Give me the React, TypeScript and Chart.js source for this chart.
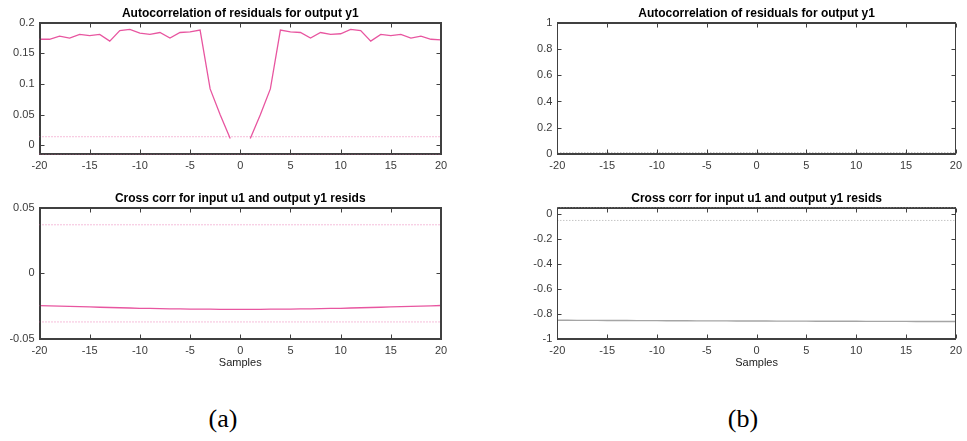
import React, { useEffect, useRef } from "react";
import { Chart, registerables } from "chart.js";

Chart.register(...registerables);

// ---------- data ----------
const lags: number[] = [
  -20, -19, -18, -17, -16, -15, -14, -13, -12, -11, -10, -9, -8, -7, -6, -5, -4, -3, -2, -1, 0,
  1, 2, 3, 4, 5, 6, 7, 8, 9, 10, 11, 12, 13, 14, 15, 16, 17, 18, 19, 20,
];

// (a) autocorrelation of residuals (lag 0 not drawn)
const autoA: (number | null)[] = [
  0.173, 0.173, 0.178, 0.175, 0.181, 0.179, 0.181, 0.17, 0.187, 0.189, 0.183, 0.181, 0.184, 0.175,
  0.184, 0.185, 0.188, 0.092, 0.05, 0.011, null, 0.011, 0.05, 0.092, 0.188, 0.185, 0.184, 0.175,
  0.184, 0.181, 0.182, 0.189, 0.187, 0.17, 0.181, 0.179, 0.181, 0.175, 0.178, 0.173, 0.172,
];
const confAutoA = 0.0141;

// (a) cross correlation u1 / y1 residuals
const crossA: number[] = [
  -0.0246, -0.0248, -0.025, -0.0252, -0.0254, -0.0256, -0.0258, -0.026, -0.0262, -0.0264, -0.0266,
  -0.0267, -0.0269, -0.027, -0.0271, -0.0272, -0.0273, -0.0273, -0.0274, -0.0274, -0.0274, -0.0274,
  -0.0274, -0.0273, -0.0273, -0.0272, -0.0271, -0.027, -0.0269, -0.0267, -0.0266, -0.0264, -0.0262,
  -0.026, -0.0258, -0.0256, -0.0253, -0.0251, -0.0249, -0.0247, -0.0245,
];
const confCrossA = 0.037;

// (b) autocorrelation: only the confidence bound is visible
const confAutoB = 0.011;

// (b) cross correlation
const crossB: number[] = [
  -0.85, -0.85, -0.851, -0.851, -0.851, -0.852, -0.852, -0.852, -0.853, -0.853, -0.853, -0.854,
  -0.854, -0.854, -0.855, -0.855, -0.855, -0.855, -0.856, -0.856, -0.856, -0.856, -0.857, -0.857,
  -0.857, -0.857, -0.858, -0.858, -0.858, -0.858, -0.858, -0.859, -0.859, -0.859, -0.859, -0.859,
  -0.86, -0.86, -0.86, -0.86, -0.86,
];
const confCrossB = 0.051;

const xTickValues: number[] = [-20, -15, -10, -5, 0, 5, 10, 15, 20];
const xTickLabels: string[] = ["-20", "-15", "-10", "-5", "0", "5", "10", "15", "20"];

const yTicksA: number[] = [0, 0.05, 0.1, 0.15, 0.2];
const yLabelsA: string[] = ["0", "0.05", "0.1", "0.15", "0.2"];
const yTicksB: number[] = [0, 0.2, 0.4, 0.6, 0.8, 1];
const yLabelsB: string[] = ["0", "0.2", "0.4", "0.6", "0.8", "1"];
const yTicksC: number[] = [-0.05, 0, 0.05];
const yLabelsC: string[] = ["-0.05", "0", "0.05"];
const yTicksD: number[] = [-1, -0.8, -0.6, -0.4, -0.2, 0];
const yLabelsD: string[] = ["-1", "-0.8", "-0.6", "-0.4", "-0.2", "0"];

const titleAuto = "Autocorrelation of residuals for output y1";
const titleCross = "Cross corr for input u1 and output y1 resids";
const xTitle = "Samples";

// ---------- styles ----------
const FONT = '"Liberation Sans", Arial, Helvetica, sans-serif';
const PINK = "rgb(232, 86, 160)";
const PINK_DOT = "rgba(232, 86, 160, 0.75)";
const GRAY = "rgb(165, 165, 165)";
const GRAY_DOT = "rgba(150, 150, 150, 0.8)";
const AXIS = "#404040";
const TICK_TEXT = "#3a3a3a";
const TICK_LEN = 4;

type Series = {
  values: (number | null)[];
  color: string;
  width?: number;
};

type PanelSpec = {
  left: number;
  top: number;
  width: number;
  height: number;
  area: { left: number; right: number; top: number; bottom: number };
  title: string;
  titleY: number;
  yMin: number;
  yMax: number;
  yTicks: number[];
  yLabels: string[];
  series: Series[];
  hLines: { y: number; color: string }[];
  showXTitle: boolean;
};

function makeConfig(spec: PanelSpec): any {
  const datasets: any[] = [];
  spec.series.forEach((s) => {
    datasets.push({
      data: lags.map((l, i) => ({ x: l, y: s.values[i] })),
      borderColor: s.color,
      borderWidth: s.width ?? 1.3,
      pointRadius: 0,
      fill: false,
      tension: 0,
      spanGaps: false,
      xAxisID: "x",
      yAxisID: "y",
    });
  });
  spec.hLines.forEach((h) => {
    datasets.push({
      data: [
        { x: lags[0], y: h.y },
        { x: lags[lags.length - 1], y: h.y },
      ],
      borderColor: h.color,
      borderWidth: 1,
      borderDash: [1, 2],
      pointRadius: 0,
      fill: false,
      clip: 2,
      xAxisID: "x",
      yAxisID: "y",
    });
  });

  const framePlugin = {
    id: "panelFrame",
    afterDraw(chart: any) {
      const ctx = chart.ctx;
      const a = chart.chartArea;
      const xs = chart.scales.x;
      const ys = chart.scales.y;
      const L = Math.round(a.left) + 0.5;
      const R = Math.round(a.right) - 0.5;
      const T = Math.round(a.top) + 0.5;
      const B = Math.round(a.bottom) - 0.5;
      ctx.save();
      ctx.setLineDash([]);
      ctx.strokeStyle = AXIS;
      ctx.lineWidth = 1;
      ctx.strokeRect(L, T, R - L, B - T);
      ctx.beginPath();
      xs.ticks.forEach((t: any) => {
        const px = Math.round(xs.getPixelForValue(t.value)) + 0.5;
        ctx.moveTo(px, B);
        ctx.lineTo(px, B - TICK_LEN);
        ctx.moveTo(px, T);
        ctx.lineTo(px, T + TICK_LEN);
      });
      ys.ticks.forEach((t: any) => {
        const py = Math.round(ys.getPixelForValue(t.value)) + 0.5;
        ctx.moveTo(L, py);
        ctx.lineTo(L + TICK_LEN, py);
        ctx.moveTo(R, py);
        ctx.lineTo(R - TICK_LEN, py);
      });
      ctx.stroke();
      ctx.font = `bold 12px ${FONT}`;
      ctx.fillStyle = "#000";
      ctx.textAlign = "center";
      ctx.textBaseline = "middle";
      ctx.fillText(spec.title, (a.left + a.right) / 2, spec.titleY);
      ctx.restore();
    },
  };

  const yAxisWidth = spec.area.left;
  const xAxisHeight = spec.height - spec.area.bottom;
  const borderOpts = { display: true, color: AXIS, width: 1 };

  return {
    type: "line",
    data: { datasets },
    options: {
      responsive: false,
      animation: false,
      layout: {
        padding: {
          left: 0,
          top: spec.area.top,
          right: spec.width - spec.area.right,
          bottom: 0,
        },
      },
      plugins: {
        legend: { display: false },
        tooltip: { enabled: false },
        title: { display: false },
      },
      scales: {
        x: {
          type: "linear",
          position: "bottom",
          min: lags[0],
          max: lags[lags.length - 1],
          grid: { display: false, drawTicks: false },
          border: borderOpts,
          afterBuildTicks: (scale: any) => {
            scale.ticks = xTickValues.map((v) => ({ value: v }));
          },
          afterFit: (scale: any) => {
            scale.height = xAxisHeight;
          },
          ticks: {
            autoSkip: false,
            maxRotation: 0,
            padding: 5,
            color: TICK_TEXT,
            font: { family: FONT, size: 11 },
            callback: (_v: any, i: number) => xTickLabels[i],
          },
          title: {
            display: spec.showXTitle,
            text: xTitle,
            color: "#222",
            font: { family: FONT, size: 11 },
            padding: { top: 0, bottom: 10 },
          },
        },
        y: {
          type: "linear",
          position: "left",
          min: spec.yMin,
          max: spec.yMax,
          grid: { display: false, drawTicks: false },
          border: borderOpts,
          afterBuildTicks: (scale: any) => {
            scale.ticks = spec.yTicks.map((v) => ({ value: v }));
          },
          afterFit: (scale: any) => {
            scale.width = yAxisWidth;
          },
          ticks: {
            autoSkip: false,
            padding: 5,
            color: TICK_TEXT,
            font: { family: FONT, size: 11 },
            callback: (_v: any, i: number) => spec.yLabels[i],
          },
        },
        xTop: {
          type: "linear",
          position: "top",
          display: true,
          min: lags[0],
          max: lags[lags.length - 1],
          grid: { display: false, drawTicks: false },
          border: borderOpts,
          ticks: { display: false },
          afterFit: (scale: any) => {
            scale.height = 0;
          },
        },
        yRight: {
          type: "linear",
          position: "right",
          display: true,
          min: spec.yMin,
          max: spec.yMax,
          grid: { display: false, drawTicks: false },
          border: borderOpts,
          ticks: { display: false },
          afterFit: (scale: any) => {
            scale.width = 0;
          },
        },
      },
    },
    plugins: [framePlugin],
  };
}

const panels: PanelSpec[] = [
  {
    left: 0,
    top: 0,
    width: 480,
    height: 180,
    area: { left: 39.5, right: 441, top: 22.7, bottom: 154 },
    title: titleAuto,
    titleY: 14,
    yMin: -confAutoA,
    yMax: 0.2,
    yTicks: yTicksA,
    yLabels: yLabelsA,
    series: [{ values: autoA, color: PINK }],
    hLines: [
      { y: confAutoA, color: PINK_DOT },
      { y: -confAutoA, color: PINK_DOT },
    ],
    showXTitle: false,
  },
  {
    left: 480,
    top: 0,
    width: 487,
    height: 180,
    area: { left: 77.3, right: 479.3, top: 22.7, bottom: 154 },
    title: titleAuto,
    titleY: 14,
    yMin: 0,
    yMax: 1,
    yTicks: yTicksB,
    yLabels: yLabelsB,
    series: [],
    hLines: [{ y: confAutoB, color: GRAY_DOT }],
    showXTitle: false,
  },
  {
    left: 0,
    top: 180,
    width: 480,
    height: 200,
    area: { left: 39.5, right: 441, top: 27.7, bottom: 159 },
    title: titleCross,
    titleY: 18.5,
    yMin: -0.05,
    yMax: 0.05,
    yTicks: yTicksC,
    yLabels: yLabelsC,
    series: [{ values: crossA, color: PINK }],
    hLines: [
      { y: confCrossA, color: PINK_DOT },
      { y: -confCrossA, color: PINK_DOT },
    ],
    showXTitle: true,
  },
  {
    left: 480,
    top: 180,
    width: 487,
    height: 200,
    area: { left: 77.3, right: 479.3, top: 27.7, bottom: 159 },
    title: titleCross,
    titleY: 18.5,
    yMin: -1,
    yMax: confCrossB,
    yTicks: yTicksD,
    yLabels: yLabelsD,
    series: [{ values: crossB, color: GRAY }],
    hLines: [
      { y: -confCrossB, color: GRAY_DOT },
      { y: confCrossB, color: GRAY_DOT },
    ],
    showXTitle: true,
  },
];

function Panel({ spec }: { spec: PanelSpec }) {
  const ref = useRef<HTMLCanvasElement | null>(null);
  useEffect(() => {
    if (!ref.current) return;
    const chart = new Chart(ref.current, makeConfig(spec));
    return () => chart.destroy();
  }, [spec]);
  return (
    <canvas
      ref={ref}
      width={spec.width}
      height={spec.height}
      style={{
        position: "absolute",
        left: spec.left,
        top: spec.top,
        width: spec.width,
        height: spec.height,
      }}
    />
  );
}

const captions = [
  { text: "(a)", x: 223 },
  { text: "(b)", x: 743 },
];

export default function App() {
  return (
    <div
      style={{
        position: "absolute",
        left: 0,
        top: 0,
        width: 967,
        height: 441,
        background: "#fff",
        overflow: "hidden",
      }}
    >
      {panels.map((p, i) => (
        <Panel key={i} spec={p} />
      ))}
      {captions.map((c) => (
        <div
          key={c.text}
          style={{
            position: "absolute",
            left: c.x - 40,
            width: 80,
            top: 402,
            textAlign: "center",
            fontFamily: '"Liberation Serif", "DejaVu Serif", serif',
            fontSize: 26,
            lineHeight: "34px",
            color: "#000",
          }}
        >
          {c.text}
        </div>
      ))}
    </div>
  );
}
